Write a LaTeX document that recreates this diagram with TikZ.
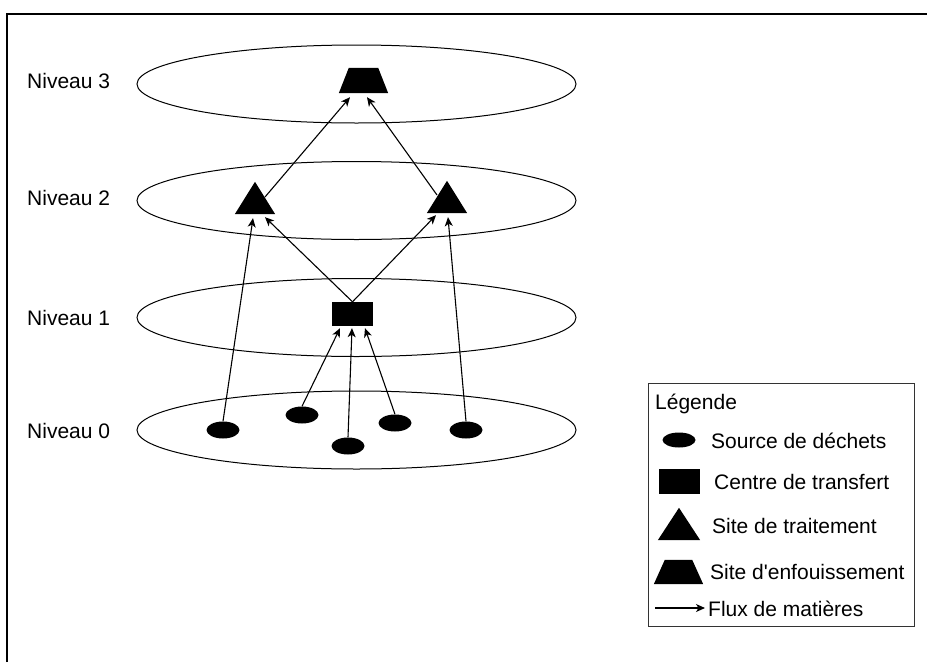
\documentclass[tikz,border=0pt]{standalone}
\usepackage{fontspec}
\setmainfont{Liberation Sans}
\usetikzlibrary{arrows.meta,calc,shapes.geometric}
\begin{document}
\begin{tikzpicture}[x=1pt,y=-1pt,
  levelring/.style={draw, ellipse, line width=1pt, minimum width=439pt, minimum height=78pt, inner sep=0},
  src/.style={fill, ellipse, minimum width=33pt, minimum height=17pt, inner sep=0},
  ctr/.style={fill, rectangle, minimum width=41pt, minimum height=24pt, inner sep=0},
  boxshape/.style={inner sep=0, draw=none},
  flow/.style={line width=1.1pt, -{Stealth[length=9pt,width=8pt,inset=2.5pt]}},
  lbl/.style={anchor=base west, inner sep=0, font=\fontsize{21}{25}\selectfont}
]
\useasboundingbox (0,0) rectangle (927,662);
\draw[line width=2pt] (7,662) -- (7,14) -- (927,14);

% level ellipses
\node[levelring] (L3) at (356.5,84) {};
\node[levelring] (L2) at (356.5,200.5) {};
\node[levelring] (L1) at (356.5,317.5) {};
\node[levelring] (L0) at (356.5,430) {};

% level labels
\node[lbl] (N3) at (27,88) {Niveau 3};
\node[lbl] (N2) at (27,205) {Niveau 2};
\node[lbl] (N1) at (27,325) {Niveau 1};
\node[lbl] (N0) at (27,438) {Niveau 0};

% level 3 : landfill
\node[boxshape, minimum width=49pt, minimum height=25pt] (T3) at (363.5,80.5) {};
\fill (T3.south west) -- (T3.south east) -- ($(T3.north east)+(-10,0)$) -- ($(T3.north west)+(10,0)$) -- cycle;

% level 2 : treatment
\node[boxshape, minimum width=40pt, minimum height=32pt] (T2L) at (255,198) {};
\fill (T2L.south west) -- (T2L.south east) -- (T2L.north) -- cycle;
\node[boxshape, minimum width=40pt, minimum height=32pt] (T2R) at (447,197) {};
\fill (T2R.south west) -- (T2R.south east) -- (T2R.north) -- cycle;

% level 1 : transfer
\node[ctr] (C1) at (352.5,314) {};

% level 0 : sources
\node[src] (S1) at (223,430) {};
\node[src] (S2) at (302,415) {};
\node[src] (S3) at (348,446) {};
\node[src] (S4) at (395,423) {};
\node[src] (S5) at (466,430) {};

% flows
\draw[flow] (S1.north) -- ($(T2L.south)+(-2,4)$);
\draw[flow] (C1.north) -- ($(T2L.south)+(10,3)$);
\draw[flow] (C1.north) -- ($(T2R.south)+(-11,2)$);
\draw[flow] (S5.north) -- ($(T2R.south)+(1,4)$);
\draw[flow] ($(T2L.center)+(10,-1)$) -- ($(T3.south)+(-13.5,4)$);
\draw[flow] ($(T2R.center)+(-10,-2)$) -- ($(T3.south)+(3.5,4)$);
\draw[flow] (S2.north) -- ($(C1.south)+(-12.5,2)$);
\draw[flow] (S3.north) -- ($(C1.south)+(-0.5,2)$);
\draw[flow] (S4.north) -- ($(C1.south)+(12.5,2)$);

% legend
\node[draw=black!80, line width=1pt, minimum width=266pt, minimum height=243pt, inner sep=0] (LG) at (781,504.5) {};
\node[lbl] (tLeg) at (655,409) {Légende};
\node[src, minimum height=15pt] (LS) at (679,440) {};
\node[lbl] (tS) at (711,448) {Source de déchets};
\node[ctr, minimum height=25pt] (LC) at (679.5,481.5) {};
\node[lbl] (tC) at (714,489) {Centre de transfert};
\node[boxshape, minimum width=42pt, minimum height=32pt] (LT) at (679,524) {};
\fill (LT.south west) -- (LT.south east) -- (LT.north) -- cycle;
\node[lbl] (tT) at (712,533) {Site de traitement};
\node[boxshape, minimum width=49pt, minimum height=24pt] (LP) at (678.5,572) {};
\fill (LP.south west) -- (LP.south east) -- ($(LP.north east)+(-11,0)$) -- ($(LP.north west)+(11,0)$) -- cycle;
\node[lbl] (tP) at (710,579) {Site d\textquotesingle enfouissement};
\coordinate (A1) at (655,608);
\coordinate (A2) at (705,608);
\draw[flow] (A1) -- (A2);
\node[lbl] (tF) at (708,616) {Flux de matières};
\end{tikzpicture}
\end{document}
